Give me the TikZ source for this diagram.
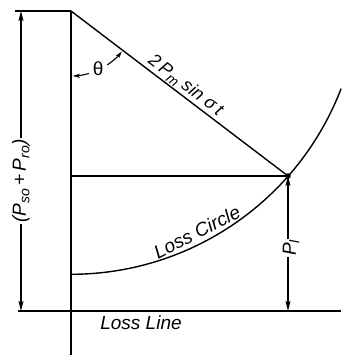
\documentclass[tikz,border=0pt]{standalone}
\usepackage{fontspec}
\setmainfont{Liberation Sans}
\usetikzlibrary{arrows.meta,calc}
\newcommand\sbx[1]{\raisebox{-0.35ex}{\fontsize{14}{14}\selectfont #1}}
\begin{document}
\begin{tikzpicture}[x=1pt,y=1pt,
  ln/.style={line width=1.4pt},
  arr/.style={ln,-{Stealth[length=10pt,width=5pt,inset=2pt]}},
  sarr/.style={line width=1.1pt,-{Stealth[length=7pt,width=4pt,inset=1.5pt]}},
  lbl/.style={font=\fontsize{19}{22}\selectfont\itshape, inner sep=1pt}]
\useasboundingbox (0,0) rectangle (341,357);
% key points
\coordinate (A) at (71,346);
\coordinate (O) at (71,2);
\coordinate (T) at (15,346);
\coordinate (LL1) at (18,46);
\coordinate (LL2) at (341,46);
\coordinate (H) at (71,181);
\coordinate (P) at (288,181);
\coordinate (Q) at (288,46);
\coordinate (L1) at (21,346);
\coordinate (L2) at (21,46);
\coordinate (B) at (71,82.7);
% axis and lines
\draw[line width=1.7pt] (A) -- (O);
\draw[ln] (T) -- (A);
\draw[ln] (LL1) -- (LL2);
\draw[ln] (H) -- (P);
\draw[ln] (A) -- node[sloped, above, pos=0.5, lbl, font=\fontsize{18}{20}\selectfont\itshape]
   {2\,P\sbx{m} sin σ\,t} (P);
% loss circle
\draw[ln] (B) arc[start angle=-90, end angle=-21, radius=289.3];
\fill (P) circle (2.8);
% labels
\node[lbl] at (141,34) {Loss Line};
\node[lbl, rotate=27] at (197,125) {Loss Circle};
% left dimension
\node[lbl, rotate=90] (lsum) at (21,176) {(P\sbx{so}\,+\,P\sbx{ro})};
\draw[arr] (lsum.east -| L1) -- (L1);
\draw[arr] (lsum.west -| L2) -- (L2);
% P_l dimension
\node[lbl, rotate=90] (pl) at (291,109) {P\sbx{l}};
\draw[arr] (pl.east -| P) -- (P);
\draw[arr] (pl.west -| Q) -- (Q);
% theta
\node[inner sep=1pt, font=\fontsize{19}{20}\selectfont] (th) at ($(A)+(-65:64)$) {θ};
\draw[sarr] ($(A)+(-74:65)$) arc[start angle=-74, end angle=-88.5, radius=65];
\draw[sarr] ($(A)+(-56:65)$) arc[start angle=-56, end angle=-38.5, radius=65];
\end{tikzpicture}
\end{document}
